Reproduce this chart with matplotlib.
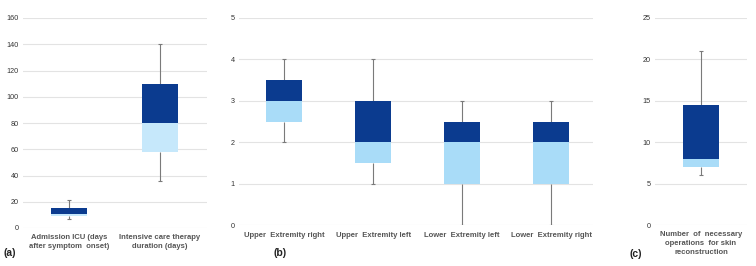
import matplotlib
matplotlib.use("Agg")
import matplotlib.pyplot as plt

# ---- data ----
a_labels = ["Admission ICU (days\nafter symptom  onset)", "Intensive care therapy\nduration (days)"]
a_min = [7, 36]
a_q1 = [9, 58]
a_med = [11, 80]
a_q3 = [15, 110]
a_max = [21, 140]
a_ticks = [0, 20, 40, 60, 80, 100, 120, 140, 160]

b_labels = ["Upper  Extremity right", "Upper  Extremity left", "Lower  Extremity left", "Lower  Extremity right"]
b_min = [2, 1, 0, 0]
b_q1 = [2.5, 1.5, 1, 1]
b_med = [3, 2, 2, 2]
b_q3 = [3.5, 3, 2.5, 2.5]
b_max = [4, 4, 3, 3]
b_ticks = [0, 1, 2, 3, 4, 5]

c_labels = ["Number  of  necessary\noperations  for skin\nreconstruction"]
c_min = [6]
c_q1 = [7]
c_med = [8]
c_q3 = [14.5]
c_max = [21]
c_ticks = [0, 5, 10, 15, 20, 25]

DARK = "#0b3b8f"
LIGHT_A = "#c6e8fb"
LIGHT_B = "#a9dcf8"
WHISK = "#7a7a7a"
GRID = "#e3e3e3"
TXT = "#555555"
FONT = "Liberation Sans"

W, H = 756, 266
fig = plt.figure(figsize=(W / 100, H / 100), dpi=100)


def make_ax(x0, x1, ytop, ybot):
    return fig.add_axes([x0 / W, (H - ybot) / H, (x1 - x0) / W, (ybot - ytop) / H])


def draw(ax, labels, mn, q1, med, q3, mx, ticks, light, xlim, bw, capw, lab_pad):
    xs = list(range(len(labels)))
    ax.set_xlim(*xlim)
    ax.set_ylim(ticks[0], ticks[-1])
    ax.set_yticks(ticks)
    for t in ticks:
        ax.axhline(t, color=GRID, lw=0.8, zorder=0)
    ax.vlines(xs, q3, mx, color=WHISK, lw=0.8, zorder=1)
    ax.vlines(xs, mn, q1, color=WHISK, lw=0.8, zorder=1)
    ax.hlines(mx, [x - capw for x in xs], [x + capw for x in xs], color=WHISK, lw=0.8)
    ax.hlines(mn, [x - capw for x in xs], [x + capw for x in xs], color=WHISK, lw=0.8)
    ax.bar(xs, [m - a for m, a in zip(med, q1)], bottom=q1, width=bw, color=light, zorder=2)
    ax.bar(xs, [b - m for b, m in zip(q3, med)], bottom=med, width=bw, color=DARK, zorder=2)
    ax.set_xticks(xs)
    ax.set_xticklabels(labels, fontsize=5.5, fontweight="bold", color=TXT,
                       family=FONT, linespacing=1.45)
    ax.tick_params(axis="x", length=0, pad=lab_pad)
    ax.tick_params(axis="y", length=0, pad=3, labelsize=5.2, labelcolor="#333333")
    for lb in ax.get_yticklabels():
        lb.set_family(FONT)
    for s in ax.spines.values():
        s.set_visible(False)


axa = make_ax(23, 207, 18, 228)
draw(axa, a_labels, a_min, a_q1, a_med, a_q3, a_max, a_ticks, LIGHT_A,
     (-0.505, 1.516), 0.396, 0.025, 4)

axb = make_ax(239, 593, 18, 225.3)
draw(axb, b_labels, b_min, b_q1, b_med, b_q3, b_max, b_ticks, LIGHT_B,
     (-0.506, 3.47), 0.40, 0.025, 5)

axc = make_ax(655, 747, 18, 225)
draw(axc, c_labels, c_min, c_q1, c_med, c_q3, c_max, c_ticks, LIGHT_B,
     (-0.5, 0.5), 0.39, 0.025, 4)

for txt, x, y in [("(a)", 3, 253), ("(b)", 274, 253), ("(c)", 629, 254)]:
    fig.text(x / W, (H - y) / H, txt, fontsize=7.5, fontweight="bold", color="#222222",
             family=FONT, va="center", ha="left")

fig.savefig("out.png", dpi=100, facecolor="white")
